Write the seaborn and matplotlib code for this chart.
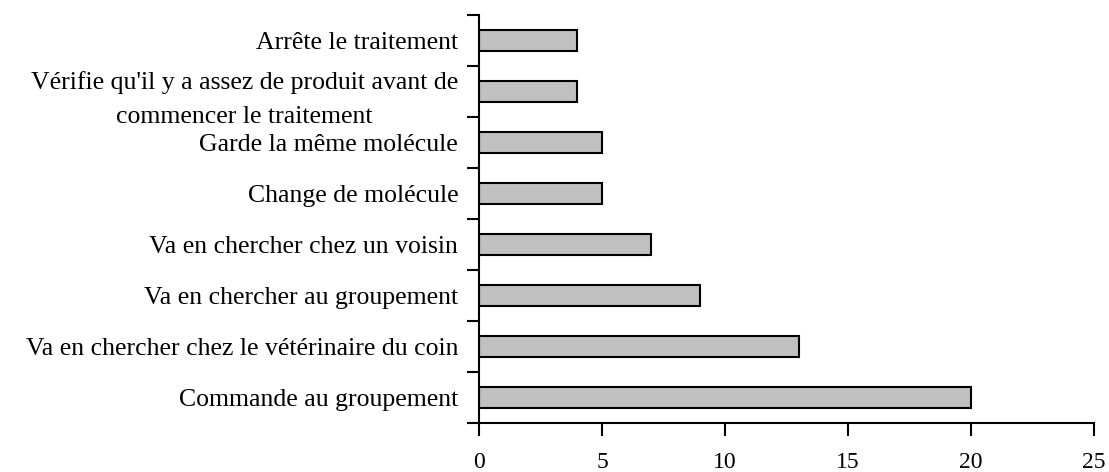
import matplotlib
matplotlib.use("Agg")
import matplotlib.pyplot as plt
import seaborn as sns
import pandas as pd
import numpy as np

categories = [
    "Arrête le traitement",
    "Vérifie qu'il y a assez de produit avant de\ncommencer le traitement",
    "Garde la même molécule",
    "Change de molécule",
    "Va en chercher chez un voisin",
    "Va en chercher au groupement",
    "Va en chercher chez le vétérinaire du coin",
    "Commande au groupement",
]
values = [4, 4, 5, 5, 7, 9, 13, 20]
xticks = [0, 5, 10, 15, 20, 25]

sns.set_theme(style="white")
plt.rcParams["font.family"] = ["Liberation Serif", "DejaVu Serif"]
plt.rcParams["text.color"] = "black"
plt.rcParams["xtick.color"] = "black"
plt.rcParams["ytick.color"] = "black"

df = pd.DataFrame({"cat": categories, "val": values})

fig = plt.figure(figsize=(11.09, 4.72), dpi=100)
ax = fig.add_axes([479 / 1109, 1 - 423 / 472, (1094 - 479) / 1109, (423 - 15) / 472])

sns.barplot(data=df, x="val", y="cat", order=categories, color="#C0C0C0",
            edgecolor="black", linewidth=1.5, width=0.4, saturation=1, ax=ax)

ax.set_xlim(0, 25)
ax.set_ylim(len(categories) - 0.5, -0.5)
ax.set_xticks(xticks)
ax.set_xticklabels([str(t) for t in xticks], fontsize=17, color="black")
ax.set_xlabel("")
ax.set_ylabel("")

ax.set_yticks(np.arange(len(categories)))
ax.set_yticklabels(categories, fontsize=18.5, multialignment="center", linespacing=1.7, color="black")
ax.set_yticks(np.arange(len(categories) + 1) - 0.5, minor=True)
ax.tick_params(axis="y", which="major", length=0, pad=15, labelcolor="black")
ax.tick_params(axis="y", which="minor", length=9, width=1.5, color="black", direction="out", left=True)
ax.tick_params(axis="x", which="major", length=9, width=1.5, color="black", direction="out", bottom=True, pad=12, labelcolor="black")

for s in ["top", "right"]:
    ax.spines[s].set_visible(False)
for s in ["left", "bottom"]:
    ax.spines[s].set_color("black")
    ax.spines[s].set_linewidth(1.5)
ax.grid(False)

fig.savefig("out.png", dpi=100, facecolor="white")
